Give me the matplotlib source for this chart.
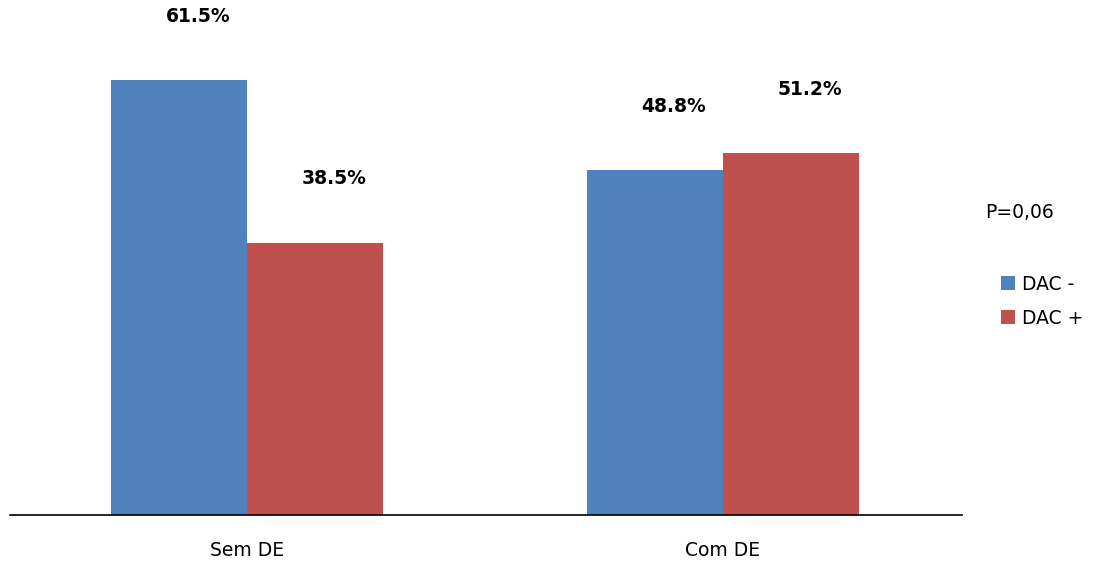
import numpy as np
import matplotlib
matplotlib.use('Agg')
import matplotlib.pyplot as plt

categories = ['Sem DE', 'Com DE']
dac_neg = [61.5, 48.8]
dac_pos = [38.5, 51.2]
series_labels = ['DAC -', 'DAC +']
p_text = 'P=0,06'

blue = '#4F81BD'
red = '#C0504D'

fig = plt.figure(figsize=(10.94, 5.62), dpi=100)
ax = fig.add_axes([10 / 1094, 47 / 562, 952 / 1094, 515 / 562])

x = np.arange(len(categories))
w = 0.286
b1 = ax.bar(x - w / 2, dac_neg, w, color=blue, label=series_labels[0])
b2 = ax.bar(x + w / 2, dac_pos, w, color=red, label=series_labels[1])

# value labels, sitting above the bars and a bit to the right
for xs, vals in [(x - w / 2, dac_neg), (x + w / 2, dac_pos)]:
    for xi, v in zip(xs, vals):
        ax.text(xi + 0.04, v + 9, f'{v:.1f}%', ha='center', va='center',
                fontsize=13.5, fontweight='bold', color='black')

ax.set_xlim(-0.498, 1.502)
ax.set_ylim(0, 72.8)
for s in ['top', 'right', 'left']:
    ax.spines[s].set_visible(False)
ax.spines['bottom'].set_linewidth(1.2)
ax.set_yticks([])
ax.set_xticks([])

for xi, c in zip(x, categories):
    ax.text(xi, -36 / 515 * 72.8, c, ha='center', va='center', fontsize=13.5)

fig.text(985 / 1094, 1 - 212 / 562, p_text, ha='left', va='center', fontsize=13.5)

fig.legend(handles=[b1, b2], loc='center left',
           bbox_to_anchor=(984 / 1094, 1 - 301 / 562), frameon=False,
           fontsize=13.5, handlelength=0.75, handleheight=0.75,
           handletextpad=0.4, labelspacing=0.8)

fig.savefig('out.png', dpi=100)
